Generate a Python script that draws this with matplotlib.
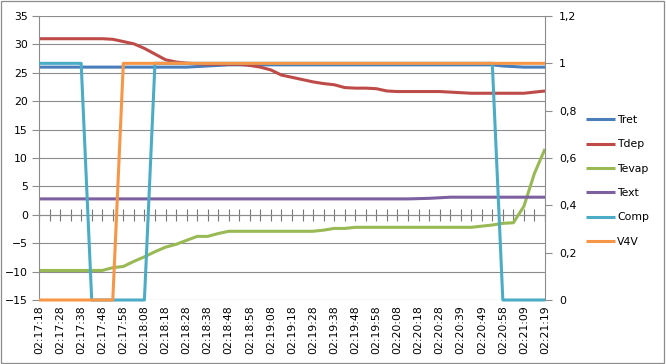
import matplotlib
matplotlib.use("Agg")
import matplotlib.pyplot as plt
from matplotlib.ticker import FuncFormatter, MultipleLocator
from matplotlib.patches import Rectangle

# categories (sampling ~5 s, every second one is labelled)
times = ["02:17:18", "02:17:23", "02:17:28", "02:17:33", "02:17:38", "02:17:43",
         "02:17:48", "02:17:53", "02:17:58", "02:18:03", "02:18:08", "02:18:13",
         "02:18:18", "02:18:23", "02:18:28", "02:18:33", "02:18:38", "02:18:43",
         "02:18:48", "02:18:53", "02:18:58", "02:19:03", "02:19:08", "02:19:13",
         "02:19:18", "02:19:23", "02:19:28", "02:19:33", "02:19:38", "02:19:43",
         "02:19:48", "02:19:53", "02:19:58", "02:20:03", "02:20:08", "02:20:13",
         "02:20:18", "02:20:23", "02:20:28", "02:20:33", "02:20:39", "02:20:44",
         "02:20:49", "02:20:53", "02:20:58", "02:21:04", "02:21:09", "02:21:14",
         "02:21:19"]

tret = [26.0, 26.0, 26.0, 26.0, 26.0, 26.0, 26.0, 26.0, 26.0, 26.0,
        26.0, 26.0, 26.0, 26.0, 26.0, 26.1, 26.2, 26.3, 26.4, 26.4,
        26.4, 26.4, 26.4, 26.4, 26.4, 26.4, 26.4, 26.4, 26.4, 26.4,
        26.4, 26.4, 26.4, 26.4, 26.4, 26.4, 26.4, 26.4, 26.4, 26.4,
        26.4, 26.4, 26.4, 26.4, 26.2, 26.1, 26.0, 26.0, 26.0]
tdep = [31.0, 31.0, 31.0, 31.0, 31.0, 31.0, 31.0, 30.9, 30.5, 30.1,
        29.3, 28.3, 27.3, 26.9, 26.7, 26.6, 26.5, 26.5, 26.5, 26.5,
        26.3, 26.0, 25.5, 24.6, 24.2, 23.8, 23.4, 23.1, 22.9, 22.4,
        22.3, 22.3, 22.2, 21.8, 21.7, 21.7, 21.7, 21.7, 21.7, 21.6,
        21.5, 21.4, 21.4, 21.4, 21.4, 21.4, 21.4, 21.6, 21.8]
tevap = [-9.8, -9.8, -9.8, -9.8, -9.8, -9.8, -9.8, -9.3, -9.1, -8.2,
         -7.4, -6.5, -5.7, -5.2, -4.5, -3.8, -3.8, -3.3, -2.9, -2.9,
         -2.9, -2.9, -2.9, -2.9, -2.9, -2.9, -2.9, -2.7, -2.4, -2.4,
         -2.2, -2.2, -2.2, -2.2, -2.2, -2.2, -2.2, -2.2, -2.2, -2.2,
         -2.2, -2.2, -2.0, -1.8, -1.5, -1.4, 1.5, 7.3, 11.6]
text = [2.8, 2.8, 2.8, 2.8, 2.8, 2.8, 2.8, 2.8, 2.8, 2.8,
        2.8, 2.8, 2.8, 2.8, 2.8, 2.8, 2.8, 2.8, 2.8, 2.8,
        2.8, 2.8, 2.8, 2.8, 2.8, 2.8, 2.8, 2.8, 2.8, 2.8,
        2.8, 2.8, 2.8, 2.8, 2.8, 2.8, 2.85, 2.9, 3.0, 3.1,
        3.1, 3.1, 3.1, 3.1, 3.1, 3.1, 3.1, 3.1, 3.1]
comp = [1, 1, 1, 1, 1, 0, 0, 0, 0, 0,
        0, 1, 1, 1, 1, 1, 1, 1, 1, 1,
        1, 1, 1, 1, 1, 1, 1, 1, 1, 1,
        1, 1, 1, 1, 1, 1, 1, 1, 1, 1,
        1, 1, 1, 1, 0, 0, 0, 0, 0]
v4v = [0, 0, 0, 0, 0, 0, 0, 0, 1, 1,
       1, 1, 1, 1, 1, 1, 1, 1, 1, 1,
       1, 1, 1, 1, 1, 1, 1, 1, 1, 1,
       1, 1, 1, 1, 1, 1, 1, 1, 1, 1,
       1, 1, 1, 1, 1, 1, 1, 1, 1]

FS = 7.8
GRID = "#8c8c8c"
LW = 2.2

fig = plt.figure(figsize=(6.66, 3.64), dpi=100)
ax = fig.add_axes([39 / 666, 64 / 364, (545 - 39) / 666, (300 - 16) / 364])
ax2 = ax.twinx()

x = list(range(len(times)))
lines = []
for vals, name, col in [(tret, "Tret", "#4A7EBB"), (tdep, "Tdep", "#BE4B48"),
                        (tevap, "Tevap", "#98B954"), (text, "Text", "#7D60A0")]:
    l, = ax.plot(x, vals, color=col, lw=LW, label=name, clip_on=False,
                 solid_capstyle="butt")
    lines.append(l)
for vals, name, col in [(comp, "Comp", "#4BACC6"), (v4v, "V4V", "#F79646")]:
    l, = ax2.plot(x, vals, color=col, lw=LW, label=name, clip_on=False,
                  solid_capstyle="butt")
    lines.append(l)

# primary axis
ax.set_xlim(0, len(times) - 1)
ax.set_ylim(-15, 35)
ax.yaxis.set_major_locator(MultipleLocator(5))
ax.grid(axis="y", color=GRID, lw=0.8)
ax.set_axisbelow(True)
for s in ["top", "right", "bottom"]:
    ax.spines[s].set_visible(False)
ax.spines["left"].set_color(GRID)
ax.tick_params(axis="y", direction="out", length=5, color=GRID,
               labelsize=FS, pad=3)
ax.set_xticks(x[::2])
ax.set_xticklabels(times[::2], rotation=90, fontsize=FS)
ax.tick_params(axis="x", length=0, pad=4)

# category axis line crossing at 0
zero = ax.secondary_xaxis(0.3)
zero.set_xticks(x)
zero.set_xticklabels([])
zero.tick_params(axis="x", direction="inout", length=8, color="#777777")
zero.spines["bottom"].set_color("#777777")
zero.spines["bottom"].set_linewidth(0.8)

# secondary axis
ax2.set_ylim(0, 1.2)
ax2.yaxis.set_major_locator(MultipleLocator(0.2))
ax2.yaxis.set_major_formatter(FuncFormatter(lambda v, p: f"{v:g}".replace(".", ",")))
for s in ["top", "left", "bottom"]:
    ax2.spines[s].set_visible(False)
ax2.spines["right"].set_color(GRID)
ax2.tick_params(axis="y", direction="out", length=5, color=GRID,
                labelsize=FS, pad=5)

fig.legend(handles=lines, loc="center left", bbox_to_anchor=(586 / 666, 0.503),
           frameon=False, fontsize=FS, handlelength=2.7, handletextpad=0.15,
           labelspacing=1.32, borderpad=0, borderaxespad=0)

# chart area border
fig.patches.append(Rectangle((0.002, 0.003), 0.995, 0.993, transform=fig.transFigure,
                             fill=False, edgecolor="#8c8c8c", lw=0.9))

fig.savefig("out.png", dpi=100)
